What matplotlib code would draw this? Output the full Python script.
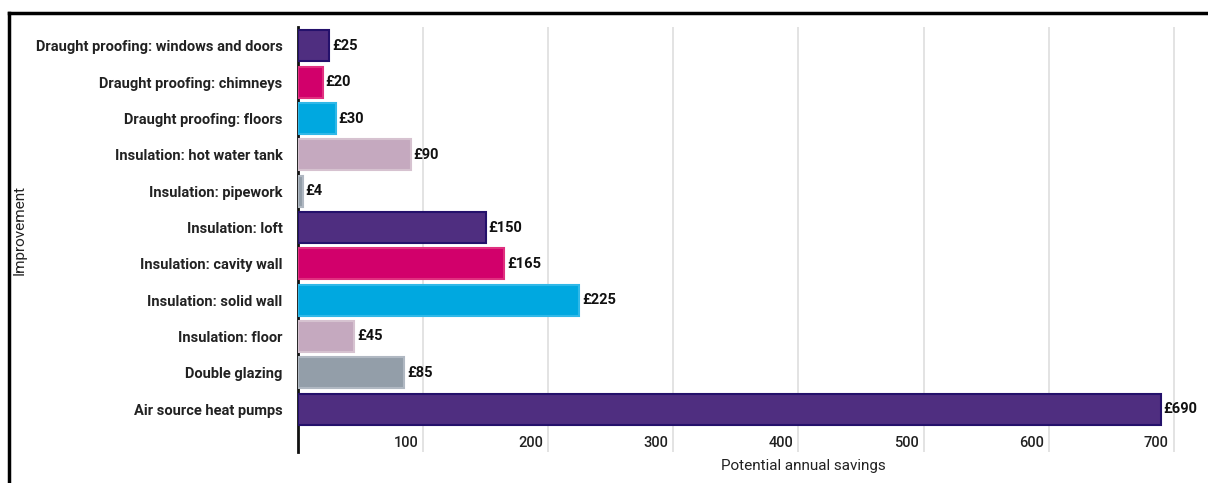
import matplotlib.pyplot as plt
from matplotlib.lines import Line2D

plt.rcParams['font.family'] = ['Roboto', 'DejaVu Sans']

improvements = [
    "Draught proofing: windows and doors",
    "Draught proofing: chimneys",
    "Draught proofing: floors",
    "Insulation: hot water tank",
    "Insulation: pipework",
    "Insulation: loft",
    "Insulation: cavity wall",
    "Insulation: solid wall",
    "Insulation: floor",
    "Double glazing",
    "Air source heat pumps",
]
savings = [25, 20, 30, 90, 4, 150, 165, 225, 45, 85, 690]
xticks = [100, 200, 300, 400, 500, 600, 700]

purple, pink, cyan, mauve, grey = "#4f2e80", "#d2006b", "#00a8e0", "#c5a9bf", "#939ea9"
fills = [purple, pink, cyan, mauve, grey, purple, pink, cyan, mauve, grey, purple]
edge_map = {purple: "#24116b", pink: "#e0307f", cyan: "#30b8e8", mauve: "#d6c2d0", grey: "#b0b8c2"}
edges = [edge_map[c] for c in fills]

fig = plt.figure(figsize=(12.08, 4.83), dpi=100)
ax = fig.add_axes([0.2467, 0.0642, 0.7301, 0.8799])

y = list(range(len(improvements)))
ax.barh(y, savings, height=0.85, color=fills, edgecolor=edges, linewidth=1.5, zorder=3)

for yi, v in zip(y, savings):
    ax.text(v + 2, yi, "£" + str(v), va="center", ha="left", fontsize=10.5,
            fontweight="bold", color="#111111", zorder=4)

ax.set_xlim(0, 705)
ax.set_ylim(len(improvements) - 1 + 1.18, -0.52)

for t in xticks:
    ax.axvline(t, color="#e0e0e0", linewidth=1.3, zorder=1)
    ax.text(t - 4, len(improvements) - 1 + 0.92, str(t), ha="right", va="center",
            fontsize=10.5, fontweight="medium", color="#222222")

ax.set_xticks([])
ax.set_yticks(y)
ax.set_yticklabels(improvements, fontsize=10.5, fontweight="bold", color="#222222")
ax.tick_params(axis="y", length=0, pad=11)

for s in ["top", "right", "bottom"]:
    ax.spines[s].set_visible(False)
ax.spines["left"].set_linewidth(2)
ax.spines["left"].set_color("#111111")

fig.text(0.665, 0.035, "Potential annual savings", ha="center", va="center",
         fontsize=11, color="#222222")
fig.text(0.016, 0.524, "Improvement", rotation=90, ha="center", va="center",
         fontsize=11, color="#222222")

# frame lines around the figure (left and top only)
fig.add_artist(Line2D([0.0072, 0.0072], [0, 0.973], transform=fig.transFigure,
                      color="black", linewidth=2.5))
fig.add_artist(Line2D([0.0072, 1.0], [0.973, 0.973], transform=fig.transFigure,
                      color="black", linewidth=2.5))

fig.savefig("out.png", dpi=100)
